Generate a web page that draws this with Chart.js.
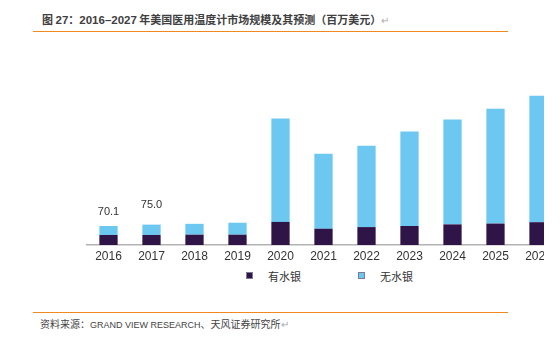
<!DOCTYPE html>
<html>
<head>
<meta charset="utf-8">
<script src="https://cdn.jsdelivr.net/npm/chart.js@4"></script>
<style>
  body { margin: 0; width: 560px; height: 338px; overflow: hidden; background: #fff; position: relative; font-family: "Noto Sans CJK SC", "Liberation Sans", sans-serif; }
  .title { position: absolute; left: 42px; top: 11px; font-size: 11px; font-weight: bold; color: #404040; white-space: nowrap; }
  .title .num { font-family: "Liberation Sans", Arial, sans-serif; font-size: 11.5px; }
  .ret { color: #aaa; font-weight: normal; font-size: 10px; }
  .rule { position: absolute; left: 33px; width: 475px; height: 1px; background: #f0891e; }
  .src { position: absolute; left: 40px; top: 316px; font-size: 10px; color: #444; white-space: nowrap; }
  .src span.en { font-family: "Liberation Sans", sans-serif; font-size: 9px; }
  #clip { position: absolute; left: 0; top: 40px; width: 544px; height: 225px; overflow: hidden; }
  #wrap { position: absolute; left: 0; top: 0; width: 610px; height: 225px; }
  .legend { position: absolute; top: 268px; font-size: 11px; color: #333; }
  .legend i { position: absolute; top: 4px; width: 7px; height: 7px; box-sizing: border-box; border: 1px solid #7a7a9a; }
</style>
</head>
<body>
<div class="title">图 <span class="num">27</span>：<span class="num">2016–2027</span> 年美国医用温度计市场规模及其预测（百万美元）<span class="ret">↵</span></div>
<div class="rule" style="top:31px"></div>
<div id="clip"><div id="wrap"><canvas id="myChart"></canvas></div></div>
<div id="legend"></div>
<div class="rule" style="top:312px"></div>
<div class="src">资料来源：<span class="en">GRAND VIEW RESEARCH</span>、天风证券研究所<span class="ret">↵</span></div>

<script>
// 数据（百万美元）
var years = ['2016', '2017', '2018', '2019', '2020', '2021', '2022', '2023', '2024', '2025', '2026', '2027'];
var mercury = [37, 37, 38, 38, 85, 60, 66, 70, 76, 79, 84, 90];
var noMercury = [33.1, 38, 40, 44, 381, 276, 300, 348, 386, 423, 466, 510];
var totalLabels = ['70.1', '75.0', '', '', '', '', '', '', '', '', '', ''];
var seriesNames = ['有水银', '无水银'];
var seriesColors = ['#2f1547', '#6cc8f0'];

// legend in html
var legendPos = [246, 358];
for (var s = 0; s < seriesNames.length; s++) {
    var d = document.createElement('div');
    d.className = 'legend';
    d.style.left = legendPos[s] + 'px';
    d.innerHTML = '<i style="background:' + seriesColors[s] + '"></i><span style="margin-left:22px">' + seriesNames[s] + '</span>';
    document.getElementById('legend').appendChild(d);
}

// labels above the first bars
const topLabels = {
    id: 'topLabels',
    afterDatasetsDraw(chart) {
        const ctx = chart.ctx;
        const meta = chart.getDatasetMeta(1);
        ctx.save();
        ctx.font = '11px "Liberation Sans", Arial, sans-serif';
        ctx.fillStyle = '#333';
        ctx.textAlign = 'center';
        ctx.textBaseline = 'bottom';
        for (var i = 0; i < totalLabels.length; i++) {
            if (!totalLabels[i]) continue;
            const bar = meta.data[i];
            ctx.fillText(totalLabels[i], bar.x, bar.y - 9 - i * 5);
        }
        ctx.restore();
    }
};

const ctx = document.getElementById('myChart').getContext('2d');
const myChart = new Chart(ctx, {
    type: 'bar',
    data: {
        labels: years,
        datasets: [{
            label: seriesNames[0],
            data: mercury,
            backgroundColor: seriesColors[0],
            barPercentage: 0.85,
            categoryPercentage: 0.5
        }, {
            label: seriesNames[1],
            data: noMercury,
            backgroundColor: seriesColors[1],
            barPercentage: 0.85,
            categoryPercentage: 0.5
        }]
    },
    options: {
        responsive: true,
        maintainAspectRatio: false,
        animation: false,
        layout: { padding: { left: 87, right: 7, top: 15, bottom: 0 } },
        plugins: {
            legend: { display: false },
            tooltip: { enabled: false }
        },
        scales: {
            x: {
                stacked: true,
                grid: { display: false, drawTicks: false },
                border: { display: true, color: '#b3b3b3', width: 1.5 },
                ticks: {
                    color: '#333',
                    padding: 4,
                    font: { family: '"Liberation Sans", Arial, sans-serif', size: 12 }
                },
                afterFit: function(scale) { scale.height = 20; }
            },
            y: {
                stacked: true,
                display: false,
                min: 0,
                max: 700
            }
        }
    },
    plugins: [topLabels]
});
</script>
</body>
</html>
